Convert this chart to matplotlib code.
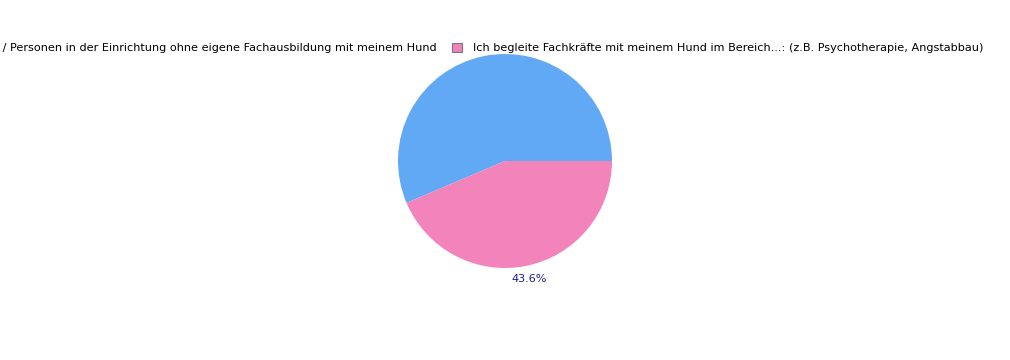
import matplotlib
matplotlib.use("Agg")
import matplotlib.pyplot as plt
from matplotlib.patches import Patch

labels = [
    "Ich begleite Klienten / Personen in der Einrichtung ohne eigene Fachausbildung mit meinem Hund",
    "Ich begleite Fachkräfte mit meinem Hund im Bereich...: (z.B. Psychotherapie, Angstabbau)",
]
values = [56.4, 43.6]
colors = ["#61a9f4", "#f283bb"]

fig = plt.figure(figsize=(10.1, 3.6), dpi=100)
ax = fig.add_axes([398/1010, 92/360, 214/1010, 214/360])
wedges, texts, autotexts = ax.pie(values, colors=colors, startangle=0, counterclock=True,
                                  autopct="%.1f%%", pctdistance=1.13,
                                  textprops=dict(color="#1a1a8c", fontsize=8))
autotexts[0].set_visible(False)
ax.set_xlim(-1, 1)
ax.set_ylim(-1, 1)
ax.set_aspect("equal")

handles = [Patch(facecolor=c, edgecolor="#777777", linewidth=0.8) for c in colors]
leg = fig.legend(handles, labels, loc="center right", bbox_to_anchor=(983/1010, 1 - 48/360),
                 ncol=2, frameon=False, fontsize=8.15, handlelength=0.9, handleheight=0.9,
                 handletextpad=0.95, columnspacing=1.3, borderaxespad=0, borderpad=0)
fig.savefig("out.png", dpi=100)
